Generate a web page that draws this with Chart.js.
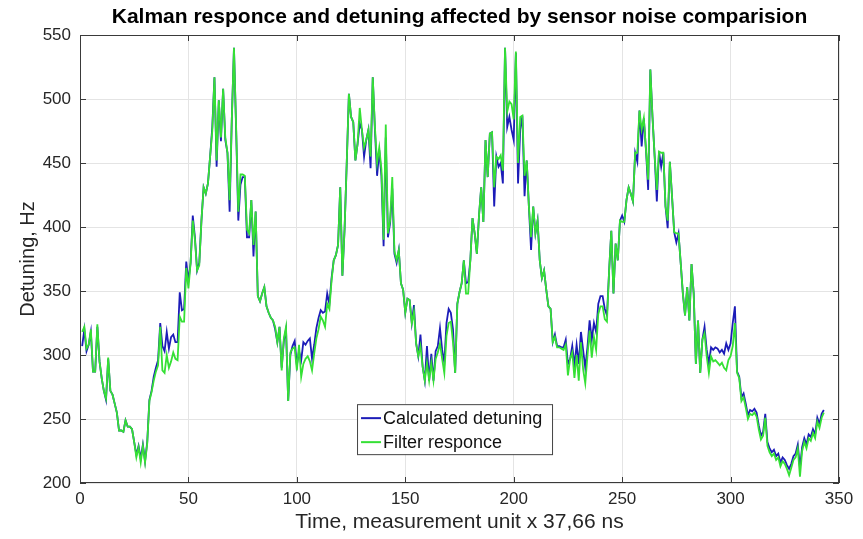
<!DOCTYPE html>
<html>
<head>
<meta charset="utf-8">
<title>Kalman responce and detuning</title>
<script src="https://cdn.jsdelivr.net/npm/chart.js@4.4.1/dist/chart.umd.min.js"></script>
<style>
  html, body { margin: 0; padding: 0; background: #fff; }
  #wrap { width: 863px; height: 539px; }
</style>
</head>
<body>
<div id="wrap"><canvas id="kalmanChart" width="863" height="539"></canvas></div>
<script>
// values, one per time step (1..343)
const calculated = [
  307, 320, 303, 308, 318, 287, 287, 322, 295, 282,
  272, 265, 297, 272, 269, 262, 255, 241, 241, 240,
  249, 244, 244, 242, 232, 222, 229, 219, 230, 217,
  232, 265, 272, 283, 290, 296, 325, 307, 303, 318,
  305, 314, 316, 310, 310, 349, 335, 336, 373, 358,
  372, 409, 392, 366, 372, 405, 431, 426, 434, 455,
  478, 517, 447, 499, 467, 508, 468, 458, 412, 484,
  540, 476, 405, 433, 439, 439, 392, 392, 421, 377,
  412, 346, 342, 348, 353, 338, 333, 329, 327, 320,
  310, 322, 290, 311, 320, 264, 300, 307, 311, 292,
  303, 296, 310, 308, 311, 313, 297, 308, 321, 329,
  335, 333, 334, 348, 340, 360, 374, 378, 386, 431,
  362, 398, 450, 504, 486, 482, 452, 465, 481, 476,
  455, 468, 476, 446, 517, 476, 440, 460, 440, 385,
  470, 392, 403, 430, 379, 372, 382, 356, 351, 333,
  344, 343, 325, 339, 309, 299, 316, 291, 280, 307,
  280, 301, 280, 303, 307, 321, 304, 294, 325, 336,
  333, 320, 286, 340, 349, 356, 374, 356, 357, 374,
  407, 395, 379, 409, 431, 404, 468, 439, 473, 474,
  416, 455, 447, 450, 434, 540, 478, 486, 476, 468,
  536, 434, 476, 487, 424, 452, 416, 382, 416, 395,
  405, 374, 360, 366, 351, 338, 336, 310, 316, 307,
  307, 306, 306, 312, 293, 297, 307, 292, 308, 293,
  318, 304, 290, 306, 327, 312, 325, 318, 340, 346,
  346, 336, 331, 366, 397, 348, 387, 374, 405, 409,
  404, 421, 431, 426, 420, 458, 451, 491, 463, 485,
  460, 429, 523, 486, 455, 420, 459, 447, 458, 416,
  399, 451, 424, 396, 388, 395, 372, 348, 331, 353,
  327, 371, 348, 293, 327, 286, 312, 322, 304, 293,
  306, 304, 306, 305, 302, 304, 301, 309, 304, 309,
  325, 338, 287, 283, 267, 270, 262, 253, 257, 256,
  258, 255, 245, 237, 240, 254, 232, 227, 224, 226,
  221, 223, 216, 220, 218, 214, 211, 215, 221, 223,
  230, 212, 228, 235, 230, 238, 236, 242, 238, 251,
  246, 254, 257
];

const filtered = [
  318, 322, 305, 308, 320, 287, 287, 324, 295, 282,
  272, 266, 298, 272, 269, 262, 255, 241, 241, 240,
  249, 244, 244, 242, 232, 220, 228, 216, 229, 216,
  231, 264, 271, 280, 287, 292, 322, 288, 286, 300,
  290, 295, 302, 297, 296, 330, 326, 326, 368, 352,
  372, 405, 390, 366, 370, 405, 431, 426, 434, 455,
  475, 517, 452, 499, 470, 508, 470, 458, 421, 484,
  540, 478, 412, 441, 441, 440, 398, 395, 421, 386,
  412, 346, 342, 348, 353, 338, 333, 329, 327, 322,
  310, 322, 288, 313, 322, 264, 302, 305, 306, 288,
  308, 283, 293, 297, 299, 295, 288, 301, 313, 320,
  330, 327, 322, 340, 336, 358, 374, 378, 386, 431,
  362, 398, 450, 504, 486, 482, 452, 465, 493, 476,
  462, 468, 476, 455, 517, 478, 450, 462, 445, 390,
  480, 395, 405, 439, 381, 374, 382, 356, 351, 333,
  344, 343, 325, 334, 309, 299, 307, 291, 280, 294,
  280, 294, 280, 297, 302, 309, 297, 286, 315, 325,
  326, 310, 286, 340, 349, 356, 374, 348, 348, 374,
  407, 395, 379, 409, 431, 404, 468, 439, 473, 474,
  431, 455, 453, 456, 444, 540, 490, 498, 496, 484,
  537, 450, 486, 487, 440, 452, 416, 392, 416, 395,
  405, 374, 360, 366, 351, 338, 336, 310, 314, 306,
  306, 305, 304, 308, 284, 297, 302, 282, 300, 280,
  310, 289, 278, 299, 319, 298, 314, 304, 332, 338,
  338, 328, 326, 366, 397, 348, 387, 374, 405, 404,
  404, 421, 431, 426, 420, 458, 458, 491, 476, 485,
  460, 437, 523, 486, 455, 429, 459, 458, 458, 416,
  405, 451, 424, 396, 395, 395, 372, 348, 331, 353,
  327, 371, 348, 293, 327, 286, 312, 317, 299, 286,
  299, 295, 296, 294, 292, 294, 290, 288, 296, 299,
  307, 325, 286, 282, 264, 267, 259, 250, 254, 253,
  255, 252, 242, 234, 237, 251, 229, 224, 221, 223,
  218, 220, 213, 217, 215, 211, 206, 212, 218, 220,
  227, 205, 225, 232, 227, 235, 233, 239, 235, 248,
  243, 251, 255
];

const times = calculated.map((_, i) => i + 1);
const xTicks = [0, 50, 100, 150, 200, 250, 300, 350];
const yTicks = [200, 250, 300, 350, 400, 450, 500, 550];

const FONT = '"Liberation Sans", Arial, Helvetica, sans-serif';
const BLUE = '#1c1cb8';
const GREEN = '#35e035';

// MATLAB-style box, inner ticks, title and legend
const matlabFrame = {
  id: 'matlabFrame',
  afterDatasetsDraw(chart) {
    const { ctx, chartArea: a, scales } = chart;
    ctx.save();
    ctx.strokeStyle = '#3a3a3a';
    ctx.lineWidth = 1;
    ctx.strokeRect(a.left + 0.5, a.top + 0.5, a.right - a.left - 1, a.bottom - a.top - 1);

    // inner tick marks
    ctx.beginPath();
    yTicks.forEach(v => {
      const y = Math.round(scales.y.getPixelForValue(v)) + 0.5;
      ctx.moveTo(a.left, y); ctx.lineTo(a.left + 6, y);
      ctx.moveTo(a.right, y); ctx.lineTo(a.right - 6, y);
    });
    xTicks.forEach(v => {
      const x = Math.round(scales.x.getPixelForValue(v)) + 0.5;
      ctx.moveTo(x, a.bottom); ctx.lineTo(x, a.bottom - 6);
      ctx.moveTo(x, a.top); ctx.lineTo(x, a.top + 6);
    });
    ctx.stroke();

    // title centred on the plot box
    ctx.fillStyle = '#000';
    ctx.font = 'bold 21px ' + FONT;
    ctx.textAlign = 'center';
    ctx.textBaseline = 'middle';
    ctx.fillText('Kalman responce and detuning affected by sensor noise comparision', (a.left + a.right) / 2, 17);

    // legend box inside the plot
    const lx = a.left + (a.right - a.left) * 0.365;
    const ly = a.top + (a.bottom - a.top) * 0.824;
    const lw = 195, lh = 50;
    ctx.fillStyle = '#fff';
    ctx.fillRect(lx, ly, lw, lh);
    ctx.strokeStyle = '#444';
    ctx.strokeRect(lx + 0.5, ly + 0.5, lw, lh);
    ctx.font = '18px ' + FONT;
    ctx.textAlign = 'left';
    const items = [chart.data.datasets[1], chart.data.datasets[0]];
    items.forEach((ds, k) => {
      const y = ly + 14 + k * 24;
      ctx.strokeStyle = ds.borderColor;
      ctx.lineWidth = 2;
      ctx.beginPath();
      ctx.moveTo(lx + 4, y); ctx.lineTo(lx + 24, y);
      ctx.stroke();
      ctx.fillStyle = '#111';
      ctx.fillText(ds.label, lx + 26, y + 1);
    });
    ctx.restore();
  }
};

const ctx = document.getElementById('kalmanChart').getContext('2d');
new Chart(ctx, {
  type: 'line',
  data: {
    datasets: [
      {
        label: 'Filter responce',
        data: filtered.map((v, i) => ({ x: times[i], y: v })),
        borderColor: GREEN,
        borderWidth: 1.8,
        pointRadius: 0,
        tension: 0,
        order: 0
      },
      {
        label: 'Calculated detuning',
        data: calculated.map((v, i) => ({ x: times[i], y: v })),
        borderColor: BLUE,
        borderWidth: 1.8,
        pointRadius: 0,
        tension: 0,
        order: 1
      }
    ]
  },
  options: {
    responsive: false,
    animation: false,
    layout: { padding: { top: 35, right: 24, left: 0, bottom: 0 } },
    plugins: {
      legend: { display: false },
      title: { display: false },
      tooltip: { enabled: false }
    },
    scales: {
      x: {
        type: 'linear',
        min: 0,
        max: 350,
        afterBuildTicks: s => { s.ticks = xTicks.map(v => ({ value: v })); },
        afterFit: s => { s.height = 56; },
        grid: { color: '#e4e4e4', drawTicks: false },
        border: { display: false },
        ticks: { padding: 6, color: '#262626', font: { family: FONT, size: 17 } },
        title: {
          display: true,
          text: 'Time, measurement unit x 37,66 ns',
          color: '#262626',
          font: { family: FONT, size: 21 },
          padding: { top: 0, bottom: 4 }
        }
      },
      y: {
        min: 200,
        max: 550,
        afterBuildTicks: s => { s.ticks = yTicks.map(v => ({ value: v })); },
        afterFit: s => { s.width = 80; },
        grid: { color: '#e4e4e4', drawTicks: false },
        border: { display: false },
        ticks: { padding: 9, color: '#262626', font: { family: FONT, size: 17 } },
        title: {
          display: true,
          text: 'Detuning, Hz',
          color: '#262626',
          font: { family: FONT, size: 20 },
          padding: { top: 16, bottom: 0 }
        }
      }
    }
  },
  plugins: [matlabFrame]
});
</script>
</body>
</html>
